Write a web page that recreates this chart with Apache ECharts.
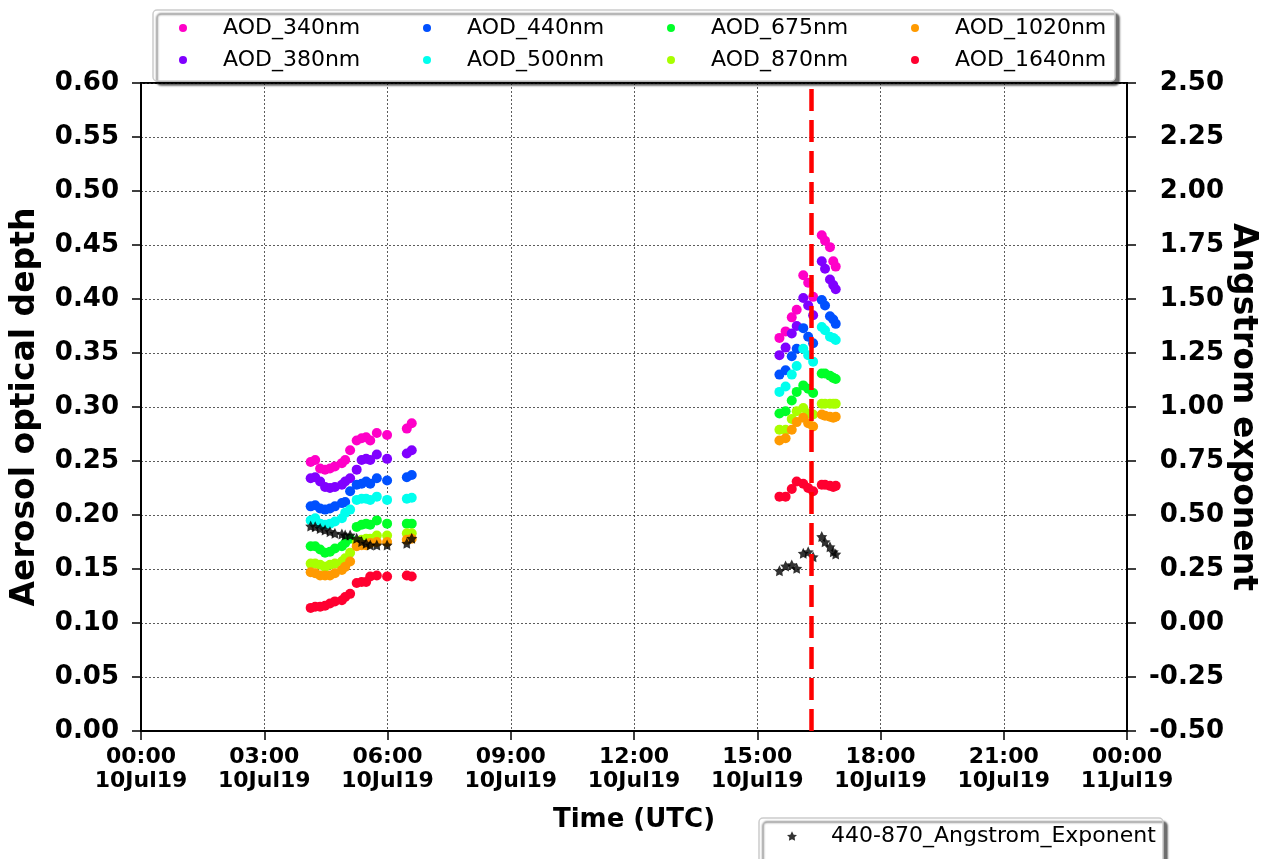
<!DOCTYPE html>
<html>
<head>
<meta charset="utf-8">
<script src="https://cdn.jsdelivr.net/npm/echarts@6/dist/echarts.min.js"></script>
<style>html,body{margin:0;padding:0;background:#fff}#c{width:1269px;height:859px}</style>
</head>
<body>
<div id="c"></div>
<script>
// Time of each measurement, hours UTC on 10 Jul 2019
const timesHours = [4.13, 4.24, 4.36, 4.48, 4.60, 4.72, 4.89, 4.97, 5.09, 5.25, 5.37, 5.48, 5.58, 5.74, 5.99, 6.47, 6.59,
  15.54, 15.69, 15.84, 15.96, 16.12, 16.24, 16.36, 16.57, 16.65, 16.77, 16.85, 16.91];
const aod340 = [0.249, 0.251, 0.243, 0.242, 0.243, 0.245, 0.248, 0.251, 0.260, 0.269, 0.271, 0.272, 0.269, 0.276, 0.274, 0.280, 0.285,
  0.364, 0.370, 0.383, 0.390, 0.422, 0.415, 0.402, 0.459, 0.454, 0.448, 0.435, 0.430];
const aod380 = [0.234, 0.235, 0.231, 0.226, 0.225, 0.226, 0.228, 0.231, 0.234, 0.242, 0.251, 0.252, 0.251, 0.256, 0.252, 0.257, 0.260,
  0.348, 0.355, 0.368, 0.375, 0.401, 0.394, 0.385, 0.435, 0.428, 0.418, 0.413, 0.409];
const aod440 = [0.208, 0.209, 0.206, 0.205, 0.206, 0.208, 0.211, 0.212, 0.222, 0.228, 0.229, 0.231, 0.229, 0.234, 0.232, 0.235, 0.237,
  0.330, 0.334, 0.347, 0.354, 0.373, 0.365, 0.359, 0.399, 0.394, 0.384, 0.381, 0.377];
const aod500 = [0.195, 0.197, 0.192, 0.191, 0.192, 0.194, 0.197, 0.202, 0.205, 0.214, 0.215, 0.215, 0.214, 0.217, 0.214, 0.215, 0.216,
  0.314, 0.319, 0.330, 0.338, 0.354, 0.348, 0.342, 0.374, 0.371, 0.365, 0.364, 0.362];
const aod675 = [0.171, 0.171, 0.168, 0.165, 0.166, 0.169, 0.171, 0.174, 0.178, 0.189, 0.191, 0.192, 0.191, 0.195, 0.192, 0.192, 0.192,
  0.294, 0.296, 0.306, 0.314, 0.320, 0.317, 0.313, 0.331, 0.331, 0.329, 0.327, 0.326];
const aod870 = [0.155, 0.155, 0.154, 0.152, 0.154, 0.155, 0.157, 0.160, 0.165, 0.175, 0.177, 0.178, 0.178, 0.181, 0.181, 0.183, 0.183,
  0.279, 0.279, 0.289, 0.296, 0.299, 0.294, 0.293, 0.303, 0.303, 0.303, 0.303, 0.303];
const aod1020 = [0.147, 0.146, 0.144, 0.144, 0.144, 0.146, 0.149, 0.152, 0.157, 0.171, 0.172, 0.172, 0.174, 0.175, 0.175, 0.177, 0.178,
  0.269, 0.271, 0.279, 0.286, 0.290, 0.285, 0.282, 0.293, 0.292, 0.291, 0.290, 0.291];
const aod1640 = [0.114, 0.115, 0.115, 0.116, 0.118, 0.120, 0.121, 0.124, 0.127, 0.137, 0.138, 0.138, 0.143, 0.144, 0.143, 0.144, 0.143,
  0.217, 0.217, 0.224, 0.231, 0.229, 0.225, 0.222, 0.228, 0.228, 0.227, 0.226, 0.227];
const angstrom440_870 = [0.449, 0.446, 0.438, 0.431, 0.423, 0.415, 0.412, 0.407, 0.407, 0.392, 0.377, 0.369, 0.361, 0.361, 0.361, 0.369, 0.392,
  0.242, 0.264, 0.269, 0.253, 0.323, 0.330, 0.307, 0.400, 0.376, 0.353, 0.330, 0.319];
const markerTimeHours = 16.31;

const aodNames = ['AOD_340nm','AOD_380nm','AOD_440nm','AOD_500nm','AOD_675nm','AOD_870nm','AOD_1020nm','AOD_1640nm'];
const aodValues = [aod340, aod380, aod440, aod500, aod675, aod870, aod1020, aod1640];
const aodColors = ['#ff00c8','#8000ff','#0050ff','#00ffee','#00ff28','#a8ff00','#ff9a00','#ff0030'];
const aeName = '440-870_Angstrom_Exponent';

const FONT = 'DejaVu Sans';
const star = 'path://M0,-10L3.2,-3.5L9.51,-3.09L5,1.6L5.88,8.09L0,5.2L-5.88,8.09L-5,1.6L-9.51,-3.09L-3.2,-3.5Z';
const pad2 = n => (n < 10 ? '0' : '') + n;

const series = aodNames.map((name, i) => ({
  name, type: 'scatter', yAxisIndex: 0, symbol: 'circle', symbolSize: 10,
  itemStyle: { color: aodColors[i], opacity: 1 },
  data: timesHours.map((t, k) => [t, aodValues[i][k]]),
  z: 2
}));
series.push({
  name: aeName, type: 'scatter', yAxisIndex: 1, symbol: star, symbolSize: 11,
  itemStyle: { color: '#000' },
  data: timesHours.map((t, k) => [t, angstrom440_870[k]]),
  z: 3,
  markLine: {
    silent: true, symbol: ['none','none'], label: { show: false },
    lineStyle: { color: '#ff0000', width: 4.5, type: [22, 9] },
    data: [{ xAxis: markerTimeHours }],
    z: 10
  }
});

const legendText = { fontFamily: FONT, fontSize: 22, color: '#000', lineHeight: 24, padding: [0,0,0,31] };
const cols = [[0,1],[2,3],[4,5],[6,7]];
const legends = cols.map((c, j) => ({
  orient: 'vertical', left: 179 + 244 * j, top: 16, padding: 0, itemGap: 8,
  itemWidth: 8, itemHeight: 8, icon: 'circle', selectedMode: false,
  textStyle: legendText, data: c.map(i => aodNames[i]), z: 5
}));
legends.push({
  orient: 'vertical', left: 787, top: 824, padding: 0, itemWidth: 10, itemHeight: 10,
  selectedMode: false, textStyle: Object.assign({}, legendText, { padding: [0,0,0,29] }),
  data: [{ name: aeName, icon: star }], z: 5
});

const chart = echarts.init(document.getElementById('c'), null, { renderer: 'canvas' });
chart.setOption({
  backgroundColor: '#fff',
  animation: false,
  grid: { left: 141, right: 142, top: 83, bottom: 128, containLabel: false, outerBoundsMode: 'none',
    show: true, borderColor: '#000', borderWidth: 2, backgroundColor: 'transparent' },
  graphic: [
    { type: 'rect', z: 3, shape: { x: 153, y: 10, width: 962, height: 71, r: 4 },
      style: { fill: '#fff', stroke: '#cccccc', lineWidth: 1.5, shadowColor: 'rgba(0,0,0,0.55)', shadowOffsetX: 4, shadowOffsetY: 4, shadowBlur: 2 } },
    { type: 'rect', z: 3, shape: { x: 759, y: 818, width: 404, height: 46, r: 4 },
      style: { fill: '#fff', stroke: '#cccccc', lineWidth: 1.5, shadowColor: 'rgba(0,0,0,0.55)', shadowOffsetX: 4, shadowOffsetY: 4, shadowBlur: 2 } }
  ],
  legend: legends,
  xAxis: {
    type: 'value', min: 0, max: 24, interval: 3,
    name: 'Time (UTC)', nameLocation: 'middle', nameGap: 76, nameMoveOverlap: false,
    nameTextStyle: { fontFamily: FONT, fontSize: 26, fontWeight: 'bold', color: '#000' },
    axisLine: { lineStyle: { color: '#000', width: 2 } },
    axisTick: { show: true, inside: false, length: 9, lineStyle: { color: '#000', width: 1.5 } },
    axisLabel: {
      margin: 14, fontFamily: FONT, fontSize: 22, fontWeight: 'bold', color: '#000', lineHeight: 24,
      formatter: v => pad2(Math.round(v) % 24) + ':00\n' + (v >= 24 ? '11Jul19' : '10Jul19')
    },
    splitLine: { show: true, lineStyle: { color: '#333', width: 0.8, type: [2, 2] } }
  },
  yAxis: [
    {
      type: 'value', min: 0, max: 0.6, interval: 0.05, position: 'left',
      name: 'Aerosol optical depth', nameLocation: 'middle', nameGap: 99, nameRotate: 90, nameMoveOverlap: false,
      nameTextStyle: { fontFamily: FONT, fontSize: 33, fontWeight: 'bold', color: '#000' },
      axisLine: { show: true, lineStyle: { color: '#000', width: 2 } },
      axisTick: { show: true, length: 9, lineStyle: { color: '#000', width: 1.5 } },
      axisLabel: { margin: 22, fontFamily: FONT, fontSize: 26, fontWeight: 'bold', color: '#000', formatter: v => v.toFixed(2) },
      splitLine: { show: true, lineStyle: { color: '#333', width: 0.8, type: [2, 2] } }
    },
    {
      type: 'value', min: -0.5, max: 2.5, interval: 0.25, position: 'right',
      name: 'Angstrom exponent', nameLocation: 'middle', nameGap: 99, nameRotate: -90, nameMoveOverlap: false,
      nameTextStyle: { fontFamily: FONT, fontSize: 33, fontWeight: 'bold', color: '#000' },
      axisLine: { show: true, lineStyle: { color: '#000', width: 2 } },
      axisTick: { show: true, length: 9, lineStyle: { color: '#000', width: 1.5 } },
      axisLabel: { margin: 97, align: 'right', fontFamily: FONT, fontSize: 26, fontWeight: 'bold', color: '#000', formatter: v => v.toFixed(2) },
      splitLine: { show: false }
    }
  ],
  series
});
</script>
</body>
</html>
